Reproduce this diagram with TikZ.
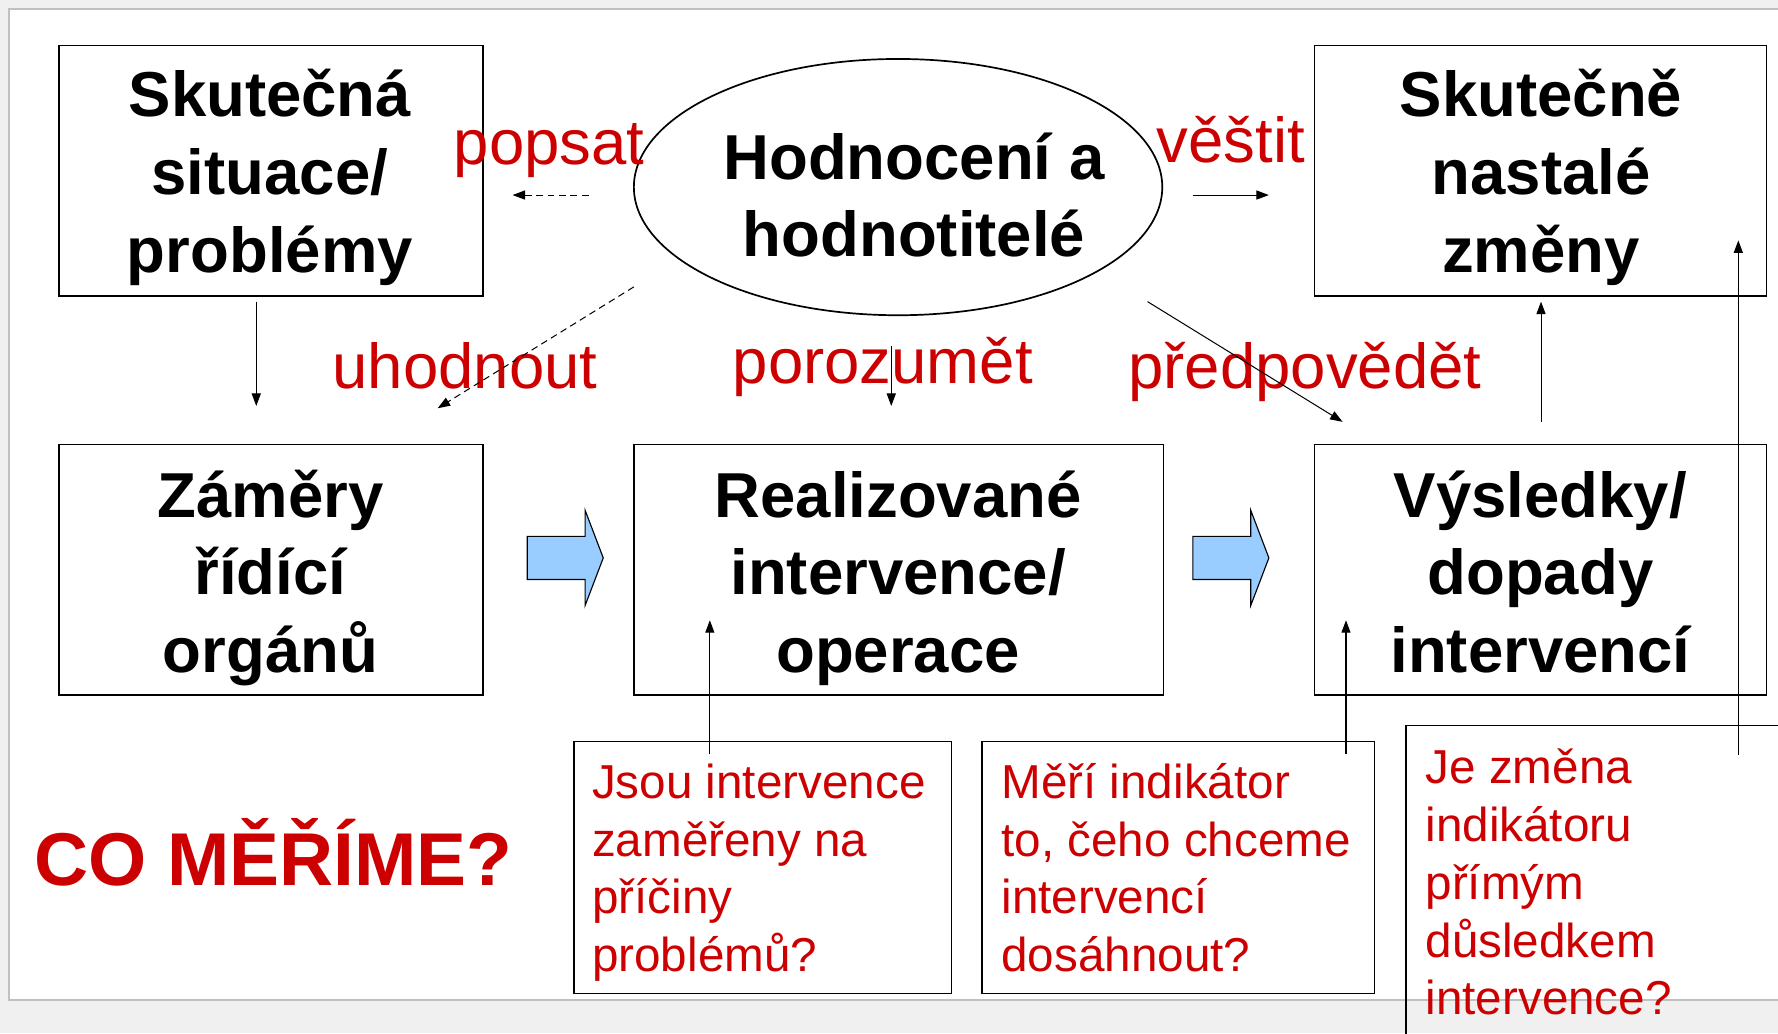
\documentclass[tikz,border=0pt]{standalone}
\usepackage{fontspec}
\setmainfont{Liberation Sans}
\usetikzlibrary{arrows.meta,shapes.geometric}
\definecolor{redtxt}{HTML}{CC0000}
\definecolor{bluearrow}{HTML}{99CCFF}
\definecolor{slidebg}{HTML}{F0F0F0}
\definecolor{slideframe}{HTML}{C0C0C0}
\begin{document}
\begin{tikzpicture}[x=1pt,y=-1pt,
  bigbox/.style={draw=black,line width=1.3pt,inner sep=0pt,rectangle},
  bigtxt/.style={font=\bfseries\fontsize{56}{68.5}\selectfont,align=center,anchor=base,inner sep=0pt},
  redlbl/.style={text=redtxt,font=\fontsize{56}{60}\selectfont,anchor=base west,inner sep=0pt},
  qbox/.style={draw=black,line width=1.3pt,inner sep=0pt,rectangle},
  qtxt/.style={text=redtxt,font=\fontsize{42}{51}\selectfont,align=left,anchor=base west,inner sep=0pt},
  conn/.style={line width=0.9pt,-{Triangle[length=11pt,width=8pt]}},
  dconn/.style={conn,dash pattern=on 6pt off 4pt},
  blockarrow/.style={fill=bluearrow,draw=black,line width=1pt}
]
\useasboundingbox (0,0) rectangle (1568,911);
\clip (0,0) rectangle (1568,911);
% background and slide
\fill[slidebg] (0,0) rectangle (1568,911);
\filldraw[fill=white,draw=slideframe,line width=1.5pt] (8,8) rectangle (1600,882);

% main boxes (text nodes anchored at the baseline of their last line)
\node[bigbox,minimum width=374pt,minimum height=221pt] (sit) at (239,150.5) {};
\node[bigtxt] (sitt) at (238,240) {Skutečná\\situace/\\problémy};
\node[bigbox,minimum width=399pt,minimum height=221pt] (chg) at (1358.5,150.5) {};
\node[bigtxt] (chgt) at (1359,240) {Skutečně\\nastalé\\změny};
\node[draw=black,line width=1.5pt,ellipse,minimum width=466pt,minimum height=226pt,inner sep=0pt] (ell) at (792,165) {};
\node[bigtxt] (ellt) at (806,226.5) {Hodnocení a\\hodnotitelé};
\node[bigbox,minimum width=374pt,minimum height=221pt] (aim) at (239,502.5) {};
\node[bigtxt] (aimt) at (238.5,593) {Záměry\\řídící\\orgánů};
\node[bigbox,minimum width=467pt,minimum height=221pt] (int) at (792.5,502.5) {};
\node[bigtxt] (intt) at (792,593) {Realizované\\intervence/\\operace};
\node[bigbox,minimum width=399pt,minimum height=221pt] (res) at (1358.5,502.5) {};
\node[bigtxt] (rest) at (1358.5,593) {Výsledky/\\dopady\\intervencí};

% question boxes
\node[qbox,minimum width=333pt,minimum height=222pt] (q1) at (672.5,765) {};
\node[qtxt] (q1t) at (522,857) {Jsou intervence\\zaměřeny na\\příčiny\\problémů?};
\node[qbox,minimum width=346pt,minimum height=222pt] (q2) at (1039,765) {};
\node[qtxt] (q2t) at (883,857) {Měří indikátor\\to, čeho chceme\\intervencí\\dosáhnout?};
\node[qbox,minimum width=400pt,minimum height=330pt] (q3) at (1440,805) {};
\node[qtxt] (q3t) at (1257,895) {Je změna\\indikátoru\\přímým\\důsledkem\\intervence?};

% title
\node[text=redtxt,font=\bfseries\fontsize{66}{70}\selectfont,anchor=base west,inner sep=0pt] (co) at (30,781) {CO MĚŘÍME?};

% red verb labels
\node[redlbl] (popsat) at (400,145) {popsat};
\node[redlbl] (vestit) at (1020,143) {věštit};
\node[redlbl] (uhod) at (293,343) {uhodnout};
\node[redlbl] (poroz) at (646,338) {porozumět};
\node[redlbl] (predp) at (995,343) {předpovědět};

% blue block arrows
\filldraw[blockarrow] (465,473)--(516,473)--(516,450)--(532,492)--(516,534)--(516,511)--(465,511)--cycle;
\filldraw[blockarrow] (1052,473)--(1103,473)--(1103,450)--(1119,492)--(1103,534)--(1103,511)--(1052,511)--cycle;

% connector end points
\coordinate (pa) at (519,172);  \coordinate (pb) at (452,172);
\coordinate (va) at (1052,172); \coordinate (vb) at (1119,172);
\coordinate (sa) at (226,266);  \coordinate (sb) at (226,358);
\coordinate (ua) at (559,253);  \coordinate (ub) at (386,360);
\coordinate (ra) at (786,305);  \coordinate (rb) at (786,358);
\coordinate (da) at (1012,266); \coordinate (db) at (1184,372);
\coordinate (fa) at (1359,372); \coordinate (fb) at (1359,266);
\coordinate (ga) at (626,665);  \coordinate (gb) at (626,547);
\coordinate (ha) at (1187,665); \coordinate (hb) at (1187,547);
\coordinate (ia) at (1533,666); \coordinate (ib) at (1533,212);

\draw[dconn] (pa) -- (pb);
\draw[conn] (va) -- (vb);
\draw[conn] (sa) -- (sb);
\draw[dconn] (ua) -- (ub);
\draw[conn] (ra) -- (rb);
\draw[conn] (da) -- (db);
\draw[conn] (fa) -- (fb);
\draw[conn] (ga) -- (gb);
\draw[conn] (ha) -- (hb);
\draw[conn] (ia) -- (ib);
\end{tikzpicture}
\end{document}
